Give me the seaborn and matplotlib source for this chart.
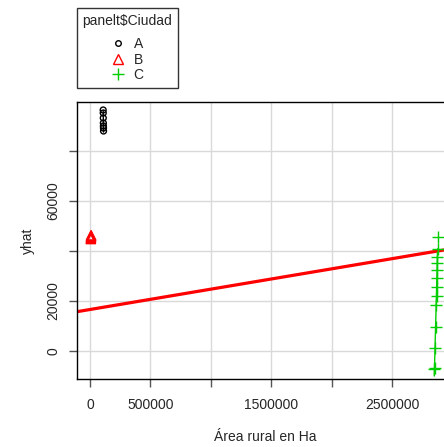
import matplotlib
matplotlib.use("Agg")
import matplotlib.pyplot as plt
from matplotlib.lines import Line2D
import numpy as np
import pandas as pd
import seaborn as sns

# ---- data ----
groups = ["A", "B", "C"]
area_A = [109000, 109500, 110000, 110500, 111000, 111500, 112000]
yhat_A = [96400, 95200, 93200, 91200, 90000, 89200, 88000]
area_B = [7000, 7500, 8000, 8500, 9000]
yhat_B = [44800, 45200, 45600, 46000, 46300]
area_C = [2878000, 2878000, 2876000, 2876000, 2873000, 2871000, 2870000,
          2869000, 2867000, 2862000, 2856000, 2852000, 2850000]
yhat_C = [45700, 40800, 37700, 35100, 32400, 29300, 25700,
          22100, 18400, 9700, 1300, -6700, -7200]
fit_intercept = 16600
fit_slope = 0.00813

x_ticks = [0, 500000, 1000000, 1500000, 2000000, 2500000]
x_ticklabels = ["0", "500000", "", "1500000", "", "2500000"]
y_ticks = [0, 20000, 40000, 60000, 80000]
y_ticklabels = ["0", "20000", "", "60000", ""]

df = pd.DataFrame({
    "area": area_A + area_B + area_C,
    "yhat": yhat_A + yhat_B + yhat_C,
    "Ciudad": ["A"] * len(area_A) + ["B"] * len(area_B) + ["C"] * len(area_C),
})

colors = {"A": "black", "B": "#FF0000", "C": "#00CD00"}
markers = {"A": "o", "B": "^", "C": "+"}
sizes = {"A": 18, "B": 45, "C": 70}

sns.set_style("white")
plt.rcParams["font.family"] = ["Liberation Sans", "DejaVu Sans"]

fig = plt.figure(figsize=(4.44, 4.47), dpi=100)
ax = fig.add_axes([77 / 444, 68 / 447, (453 - 77) / 444, 277 / 447])

for g in groups:
    sub = df[df["Ciudad"] == g]
    if markers[g] == "+":
        sns.scatterplot(data=sub, x="area", y="yhat", marker="+", s=sizes[g],
                        color=colors[g], linewidth=1.0, ax=ax, zorder=3)
    else:
        sns.scatterplot(data=sub, x="area", y="yhat", marker=markers[g], s=sizes[g],
                        color=colors[g], facecolor="none", edgecolor=colors[g],
                        linewidth=1.0, ax=ax, zorder=3)
    if g in ("A", "C"):
        sns.regplot(data=sub, x="area", y="yhat", scatter=False, ci=None,
                    color=colors[g], line_kws={"linewidth": 1.0}, ax=ax, truncate=True)

ax.axline((0, fit_intercept), slope=fit_slope, color="#FF0000", linewidth=2.3, zorder=2)

ax.set_xlim(-107600, 3005000)
ax.set_ylim(-11200, 99600)
ax.set_xticks(x_ticks)
ax.set_xticklabels(x_ticklabels)
ax.set_yticks(y_ticks)
ax.set_yticklabels(y_ticklabels, rotation=90, va="center")
ax.grid(True, color="#d9d9d9", linewidth=1.0)
ax.set_axisbelow(True)
ax.tick_params(axis="both", direction="out", length=6, width=1, color="#555555",
               labelsize=10, bottom=True, left=True)
ax.tick_params(axis="x", pad=8)
ax.tick_params(axis="y", pad=6)
for s in ax.spines.values():
    s.set_color("black")
    s.set_linewidth(1.0)

ax.set_xlabel("Área rural en Ha", fontsize=10)
ax.set_ylabel("yhat", fontsize=10)
ax.xaxis.set_label_coords((265 - 77) / (453 - 77), -(437 - 379) / 277)
ax.xaxis.label.set_va("center")
ax.yaxis.label.set_va("center")
ax.yaxis.set_label_coords(-(77 - 28) / (453 - 77), 0.5)

handles = [
    Line2D([], [], linestyle="none", marker="o", markersize=4, markerfacecolor="none",
           markeredgecolor="black", markeredgewidth=1.0),
    Line2D([], [], linestyle="none", marker="^", markersize=6.5, markerfacecolor="none",
           markeredgecolor="#FF0000", markeredgewidth=1.0),
    Line2D([], [], linestyle="none", marker="+", markersize=8, markeredgecolor="#00CD00",
           markeredgewidth=1.0),
]
leg = fig.legend(handles, groups, title="panelt$Ciudad", loc="upper left",
                 bbox_to_anchor=(77 / 444, 1 - 8 / 447), borderaxespad=0,
                 fontsize=10, title_fontsize=10,
                 frameon=True, fancybox=False, edgecolor="black", borderpad=0.4,
                 handlelength=1.0, handletextpad=0.6, labelspacing=0.1)
leg.get_frame().set_linewidth(1.0)
leg._legend_box.sep = 7

fig.savefig("out.png", dpi=100)
